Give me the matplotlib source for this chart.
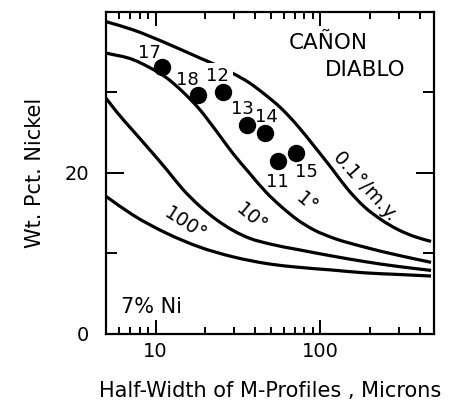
import numpy as np
import matplotlib
matplotlib.use("Agg")
import matplotlib.pyplot as plt
from matplotlib.path import Path
from matplotlib.patches import PathPatch
from matplotlib.ticker import FixedLocator, NullFormatter

# cooling-rate curves (half-width in microns, wt. pct. Ni)
x_01 = [5, 7.26, 11.7, 18.5, 22.8, 29.3, 37.1, 45.8, 58.1, 72.5, 92, 117, 145, 185,
        234, 294, 373, 470]
y_01 = [38.8, 37.8, 36.1, 34.3, 33.5, 32.4, 31.2, 29.8, 28.0, 25.9, 23.3, 20.6, 18.1,
        15.8, 14.2, 13.0, 12.1, 11.5]

x_1 = [5, 7.26, 9.2, 11.7, 14.6, 18.5, 23.4, 29.3, 37.1, 46.9, 58.1, 72.5, 92, 117,
       185, 294, 470]
y_1 = [34.9, 34.1, 33.1, 31.8, 30.1, 27.9, 25.2, 22.5, 20.0, 17.6, 15.8, 14.2, 12.9,
       12.0, 10.8, 9.8, 8.9]

x_10 = [5, 5.8, 7.26, 9.2, 11.7, 14.6, 18.5, 23.4, 29.3, 37.1, 49, 72.5, 117, 185,
        294, 470]
y_10 = [29.3, 27.6, 25.3, 22.9, 20.4, 18.0, 15.9, 14.2, 12.9, 11.9, 11.2, 10.5, 9.7,
        9.0, 8.4, 7.9]

x_100 = [5, 7.26, 11.7, 18.5, 29.3, 49, 72.5, 117, 185, 294, 470]
y_100 = [17.1, 14.8, 12.5, 10.8, 9.6, 8.7, 8.3, 7.95, 7.6, 7.4, 7.2]

# measured points
pt_names = ["17", "18", "12", "13", "14", "11", "15"]
pt_x = [11.0, 18.2, 25.5, 36.1, 46.4, 55.6, 71.5]
pt_y = [33.2, 29.7, 30.1, 26.0, 25.0, 21.5, 22.5]
pt_off = [(-9, 10), (-8, 11), (-4, 11), (-3.5, 11.5), (1, 11), (-0.5, -15), (7, -13.5)]


def smooth_path(xs, ys):
    """Bezier path through the points, built in log-x space."""
    u = np.log10(xs)
    y = np.asarray(ys, float)
    m = np.gradient(y, u)
    verts = [(xs[0], y[0])]
    codes = [Path.MOVETO]
    for i in range(len(u) - 1):
        h = u[i + 1] - u[i]
        c1 = (10 ** (u[i] + h / 3), y[i] + m[i] * h / 3)
        c2 = (10 ** (u[i + 1] - h / 3), y[i + 1] - m[i + 1] * h / 3)
        verts += [c1, c2, (xs[i + 1], y[i + 1])]
        codes += [Path.CURVE4] * 3
    return Path(verts, codes)


fig = plt.figure(figsize=(4.7, 4.04), dpi=100)
ax = fig.add_axes([0.2255, 0.1733, 0.698, 0.797])

ax.set_xscale("log")
ax.set_xlim(5, 490)
ax.set_ylim(0, 40)

for xs, ys in [(x_01, y_01), (x_1, y_1), (x_10, y_10), (x_100, y_100)]:
    ax.add_patch(PathPatch(smooth_path(xs, ys), fill=False, ec="black", lw=2.3,
                           capstyle="butt", joinstyle="round", zorder=2))

ax.plot(pt_x, pt_y, "o", color="black", ms=11.5, zorder=4)
for name, px, py, off in zip(pt_names, pt_x, pt_y, pt_off):
    bb = None
    if name == "12":
        bb = dict(boxstyle="square,pad=0.25", fc="white", ec="none")
    ax.annotate(name, (px, py), xytext=off, textcoords="offset points",
                ha="center", va="center", fontsize=13, zorder=3, bbox=bb)

ax.xaxis.set_major_locator(FixedLocator([10, 100]))
ax.xaxis.set_minor_locator(FixedLocator([6, 7, 8, 9, 20, 30, 40, 50, 60, 70, 80, 90,
                                         200, 300, 400]))
ax.xaxis.set_minor_formatter(NullFormatter())
ax.set_xticklabels(["10", "100"])
ax.yaxis.set_major_locator(FixedLocator([0, 20]))
ax.yaxis.set_minor_locator(FixedLocator([10, 30]))
ax.set_yticklabels(["0", "20"])

ax.tick_params(which="both", direction="in", top=True, right=True,
               width=1.4, labelsize=14, colors="black")
ax.tick_params(axis="x", which="major", length=10, pad=6)
ax.tick_params(axis="x", which="minor", length=5)
ax.tick_params(axis="y", which="major", length=13, pad=12)
ax.tick_params(axis="y", which="minor", length=8)
for s in ax.spines.values():
    s.set_linewidth(1.6)

ax.set_xlabel("Half-Width of M-Profiles , Microns", fontsize=15, labelpad=14)
ax.set_ylabel("Wt. Pct. Nickel", fontsize=15, labelpad=14)

tf = ax.transAxes
ax.text(0.677, 0.904, "CAÑON", transform=tf, fontsize=15.5, ha="center", va="center")
ax.text(0.790, 0.820, "DIABLO", transform=tf, fontsize=15.5, ha="center", va="center")
ax.text(0.140, 0.084, "7% Ni", transform=tf, fontsize=15, ha="center", va="center")
ax.text(0.790, 0.457, "0.1°/m.y.", transform=tf, fontsize=14, rotation=-48,
        ha="center", va="center", rotation_mode="anchor")
ax.text(0.613, 0.407, "1°", transform=tf, fontsize=14, rotation=-40,
        ha="center", va="center", rotation_mode="anchor")
ax.text(0.445, 0.360, "10°", transform=tf, fontsize=14, rotation=-40,
        ha="center", va="center", rotation_mode="anchor")
ax.text(0.241, 0.342, "100°", transform=tf, fontsize=14, rotation=-33,
        ha="center", va="center", rotation_mode="anchor")

fig.savefig("out.png", dpi=100)
